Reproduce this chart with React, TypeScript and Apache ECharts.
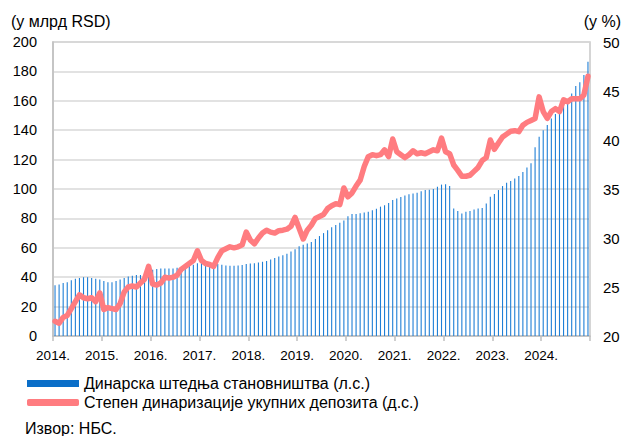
import React, { useEffect, useRef } from "react";
import * as echarts from "echarts";

// Monthly data, Jan 2014 – Dec 2024
const years = [2014, 2015, 2016, 2017, 2018, 2019, 2020, 2021, 2022, 2023, 2024];

// Dinar household savings (bn RSD), left axis
const savings2014 = [34.5, 35, 36, 36.5, 38, 39, 39.5, 40, 40, 39.5, 39, 38.5];
const savings2015 = [37.5, 36.5, 36.5, 37.5, 38.5, 39.5, 40.5, 41, 41.5, 41.5, 42, 42.5];
const savings2016 = [45, 45.5, 46, 46, 46, 46, 46.5, 47, 47.5, 48, 48.5, 49.5];
const savings2017 = [50.5, 51, 50, 49.5, 49, 48.5, 48, 47.8, 47.8, 48, 48.3, 49];
const savings2018 = [49.4, 49.5, 50, 50.5, 51, 52, 53, 54, 55, 56, 57.5, 59];
const savings2019 = [61, 62, 63, 64, 66, 68, 70, 72, 74, 75.5, 77, 78.5];
const savings2020 = [81.5, 83, 83, 83.5, 84, 84.5, 85.5, 86.5, 88, 89, 90.5, 92.5];
const savings2021 = [93.5, 94.5, 95.5, 96.5, 97, 97.5, 98.5, 99.3, 99.5, 100, 101.6, 103];
const savings2022 = [103.3, 102, 86.8, 85, 83.4, 84.6, 85, 86, 86.8, 87, 90.2, 94.8];
const savings2023 = [96.6, 99.3, 102, 104.3, 105.4, 107.2, 108.8, 111.6, 114.7, 117.5, 128.4, 135.6];
const savings2024 = [140, 143.5, 148, 151, 151.5, 156, 158, 165, 170, 172.6, 177.5, 186.6];

// Dinarisation of total deposits (%), right axis
const dinar2014 = [21.5, 21.3, 21.9, 22.1, 22.8, 23.5, 24.2, 23.9, 23.8, 23.9, 23.5, 24.4];
const dinar2015 = [22.7, 22.9, 22.8, 22.7, 23.3, 24.5, 25.0, 25.1, 25.0, 25.4, 25.8, 27.1];
const dinar2016 = [25.3, 25.2, 25.4, 26.0, 25.9, 26.0, 26.2, 26.8, 27.1, 27.4, 27.7, 28.7];
const dinar2017 = [27.7, 27.4, 27.3, 27.1, 28.0, 28.7, 28.9, 29.1, 29.0, 29.1, 29.3, 30.6];
const dinar2018 = [29.8, 29.4, 30.0, 30.5, 30.8, 30.6, 30.5, 30.75, 30.8, 30.9, 31.2, 32.1];
const dinar2019 = [31.0, 29.9, 30.8, 31.3, 32.0, 32.2, 32.4, 33.0, 33.3, 33.5, 33.4, 35.1];
const dinar2020 = [34.2, 34.6, 35.3, 35.9, 37.3, 38.3, 38.5, 38.4, 38.5, 39.0, 38.3, 40.1];
const dinar2021 = [38.8, 38.5, 38.2, 38.5, 38.9, 38.6, 38.7, 38.6, 38.8, 39.0, 38.9, 40.2];
const dinar2022 = [38.8, 38.6, 37.45, 36.9, 36.3, 36.3, 36.4, 36.8, 37.2, 37.9, 38.2, 40.0];
const dinar2023 = [39.05, 39.7, 40.3, 40.6, 40.9, 40.95, 40.85, 41.5, 41.8, 42.0, 42.2, 44.4];
const dinar2024 = [42.9, 42.2, 42.9, 43.2, 42.9, 44.1, 43.9, 44.2, 44.2, 44.2, 44.6, 46.5];

const savings = [
  ...savings2014, ...savings2015, ...savings2016, ...savings2017, ...savings2018, ...savings2019,
  ...savings2020, ...savings2021, ...savings2022, ...savings2023, ...savings2024,
];
const dinarisation = [
  ...dinar2014, ...dinar2015, ...dinar2016, ...dinar2017, ...dinar2018, ...dinar2019,
  ...dinar2020, ...dinar2021, ...dinar2022, ...dinar2023, ...dinar2024,
];

const seriesNames = [
  "Динарска штедња становништва (л.с.)",
  "Степен динаризације укупних депозита (д.с.)",
];

const FONT = "'Liberation Sans', Arial, sans-serif";

export default function App() {
  const ref = useRef<HTMLDivElement>(null);
  useEffect(() => {
    if (!ref.current) return;
    const chart = echarts.init(ref.current, null, { renderer: "svg" });
    chart.setOption({
      animation: false,
      textStyle: { fontFamily: FONT },
      grid: {
        left: 53,
        right: 34,
        top: 42,
        bottom: 100,
        show: true,
        borderColor: "#c8c8c8",
        borderWidth: 1.5,
      },
      legend: {
        orient: "vertical",
        left: 27,
        top: 375,
        padding: 0,
        itemGap: 2,
        itemWidth: 52,
        itemHeight: 7,
        textStyle: { fontSize: 16, color: "#000", fontFamily: FONT, lineHeight: 17 },
        data: [
          { name: seriesNames[0], icon: "rect", itemStyle: { color: "#0a6ec8" } },
          { name: seriesNames[1], icon: "roundRect" },
        ],
        selectedMode: false,
      },
      graphic: [
        {
          type: "text",
          left: 11,
          top: 13,
          style: { text: "(у млрд RSD)", fontSize: 16, fill: "#000", fontFamily: FONT },
        },
        {
          type: "text",
          right: 3,
          top: 13,
          style: { text: "(у %)", fontSize: 16, fill: "#000", fontFamily: FONT },
        },
        {
          type: "text",
          left: 25,
          top: 420,
          style: { text: "Извор: НБС.", fontSize: 16, fill: "#000", fontFamily: FONT },
        },
      ],
      xAxis: {
        type: "value",
        min: 0,
        max: years.length * 12,
        interval: 12,
        axisLine: { show: true, lineStyle: { color: "#bfbfbf", width: 1.5 } },
        axisTick: { show: true, length: 5, lineStyle: { color: "#bfbfbf", width: 1.5 } },
        splitLine: { show: false },
        axisLabel: {
          fontSize: 13.5,
          color: "#000",
          margin: 12,
          fontFamily: FONT,
          formatter: (v: number) => {
            const idx = Math.round(v / 12);
            return idx < years.length ? years[idx] + "." : "";
          },
        },
      },
      yAxis: [
        {
          type: "value",
          min: 0,
          max: 200,
          interval: 20,
          axisLine: { show: true, lineStyle: { color: "#bfbfbf", width: 1.5 } },
          axisTick: { show: false },
          splitLine: { show: true, lineStyle: { color: "#d9d9d9", width: 1.5 } },
          axisLabel: { fontSize: 14.5, color: "#000", margin: 16, fontFamily: FONT },
        },
        {
          type: "value",
          min: 20,
          max: 50,
          interval: 5,
          axisLine: { show: false },
          axisTick: { show: false },
          splitLine: { show: false },
          axisLabel: { fontSize: 15, color: "#000", margin: 13, fontFamily: FONT },
        },
      ],
      series: [
        {
          name: seriesNames[0],
          type: "bar",
          barWidth: 1.1,
          itemStyle: { color: "#1f7fd6" },
          data: savings.map((v, i) => [i + 0.5, v]),
        },
        {
          name: seriesNames[1],
          type: "line",
          yAxisIndex: 1,
          showSymbol: false,
          symbol: "none",
          smooth: false,
          lineStyle: { color: "#ff7c80", width: 5.5, cap: "round", join: "round" },
          itemStyle: { color: "#ff7c80" },
          data: dinarisation.map((v, i) => [i + 0.5, v]),
        },
      ],
    });
    return () => chart.dispose();
  }, []);
  return (
    <div
      ref={ref}
      style={{ position: "fixed", left: 0, top: 0, width: 624, height: 436, background: "#fff" }}
    />
  );
}
